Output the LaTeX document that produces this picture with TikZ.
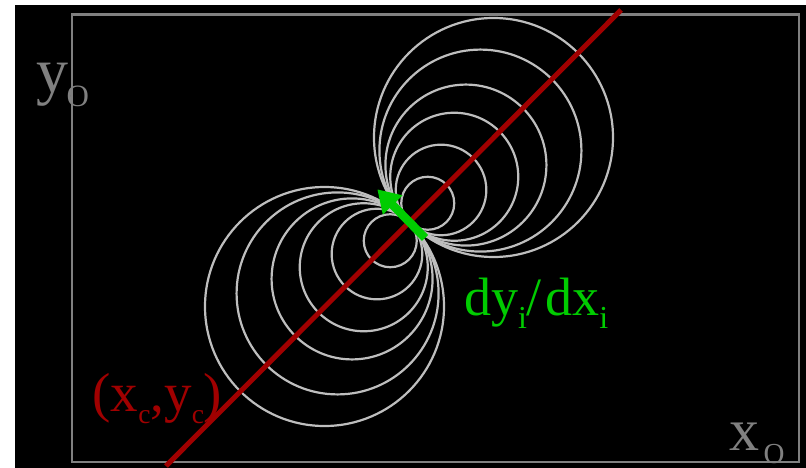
\documentclass[tikz,border=0pt]{standalone}
\usepackage{fontspec}
\setmainfont{Liberation Serif}
\usetikzlibrary{arrows.meta}
\definecolor{framegray}{RGB}{128,128,128}
\definecolor{circgray}{RGB}{190,190,190}
\definecolor{linered}{RGB}{160,0,0}
\definecolor{arrowgreen}{RGB}{0,204,0}
\begin{document}
\begin{tikzpicture}[x=1pt,y=-1pt,
  frame/.style={draw=framegray,line width=2.3pt},
  circ/.style={draw=circgray,line width=2.2pt},
  lbl/.style={inner sep=0pt,outer sep=0pt,anchor=base west}]
\useasboundingbox (0,0) rectangle (806,468);
\fill[white] (0,0) rectangle (806,468);
\fill[black] (15,5) rectangle (806,468);
\draw[frame] (72,14.5) rectangle (799,461.7);
% family of circles tangent at P
\coordinate (P) at (409,222);
\foreach \r in {26.5,45.3,64,80.5,101,119.5}{
  \draw[circ] ([shift={(0.7071*\r,-0.7071*\r)}]P) circle[radius=\r pt];
  \draw[circ] ([shift={(-0.7071*\r,0.7071*\r)}]P) circle[radius=\r pt];
}
% red line
\coordinate (rA) at (166,466);
\coordinate (rB) at (621,10);
\draw[linered,line width=5pt] (rA) -- (rB);
% green arrow
\coordinate (aT) at (425,238);
\coordinate (aH) at (377.3,189.3);
\draw[arrowgreen,line width=8.5pt,-{Triangle[length=22pt,width=26pt]}] (aT) -- (aH);
% labels
\node[lbl,text=framegray,font=\fontsize{64}{64}\selectfont] (yo) at (36.5,93)
  {y\kern-2pt\raisebox{-14pt}{\fontsize{31}{31}\selectfont O}};
\node[lbl,text=framegray,font=\fontsize{60}{60}\selectfont] (xo) at (729.5,450)
  {x\kern4pt\raisebox{-13pt}{\fontsize{29}{29}\selectfont O}};
\node[lbl,text=linered,font=\fontsize{55}{55}\selectfont] (xc) at (92.5,411.7)
  {(x\raisebox{-11.3pt}{\fontsize{27.5}{27.5}\selectfont c},y\raisebox{-11.3pt}{\fontsize{27.5}{27.5}\selectfont c})};
\node[lbl,text=arrowgreen,font=\fontsize{54}{54}\selectfont] (dydx) at (464,315)
  {dy\raisebox{-13.5pt}{\fontsize{32}{32}\selectfont i}/\kern3.5pt dx\raisebox{-13.5pt}{\fontsize{32}{32}\selectfont i}};
\end{tikzpicture}
\end{document}
